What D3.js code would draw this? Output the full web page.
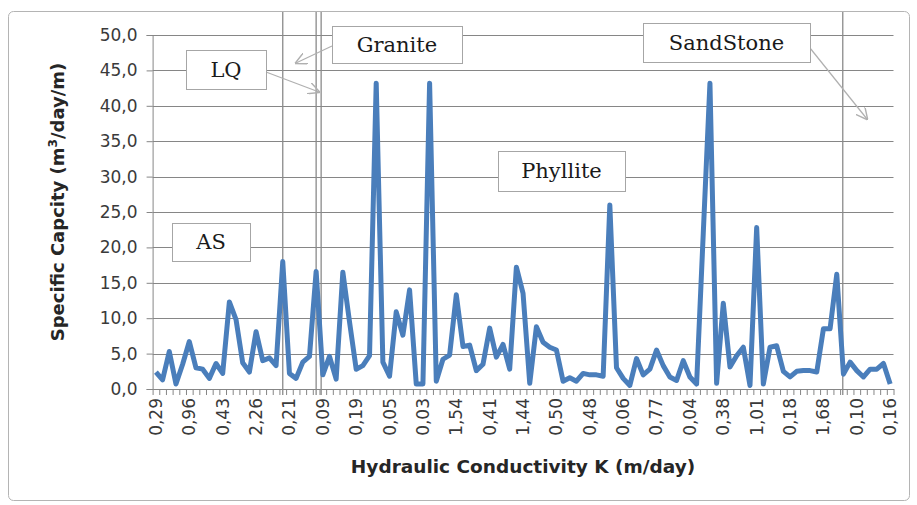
<!DOCTYPE html>
<html>
<head>
<meta charset="utf-8">
<script src="https://cdn.jsdelivr.net/npm/d3@7"></script>
<style>
  body { margin: 0; background: #fff; }
  svg { display: block; }
</style>
</head>
<body>
<svg id="chart" width="917" height="505"></svg>
<script>
// labels shown under every 5th category
const conductivityLabels = ['0,29', '0,96', '0,43', '2,26', '0,21', '0,09', '0,19', '0,05', '0,03', '1,54', '0,41', '1,44',
  '0,50', '0,48', '0,06', '0,77', '0,04', '0,38', '1,01', '0,18', '1,68', '0,10', '0,16'];
const labelEvery = 5;

// specific capacity per well (m3/day/m)
const specificCapacity = [
  2.4, 1.3, 5.3, 0.7, 3.5, 6.7, 3.0, 2.8, 1.5, 3.6,
  2.2, 12.3, 9.8, 3.7, 2.4, 8.1, 4.0, 4.4, 3.3, 18.0,
  2.2, 1.5, 3.8, 4.6, 16.6, 2.0, 4.6, 1.4, 16.5, 9.5,
  2.8, 3.3, 4.7, 43.2, 3.8, 1.8, 10.9, 7.6, 14.0, 0.7,
  0.7, 43.2, 1.1, 4.2, 4.8, 13.3, 6.0, 6.2, 2.6, 3.5,
  8.6, 4.5, 6.3, 2.8, 17.2, 13.5, 0.8, 8.8, 6.6, 5.9,
  5.5, 1.1, 1.6, 1.1, 2.2, 2.0, 2.0, 1.8, 26.0, 3.0,
  1.5, 0.5, 4.3, 2.0, 2.8, 5.5, 3.3, 1.7, 1.2, 4.0,
  1.7, 0.7, 22.0, 43.2, 0.8, 12.1, 3.1, 4.7, 5.9, 0.5,
  22.8, 0.7, 5.9, 6.1, 2.5, 1.7, 2.5, 2.6, 2.6, 2.4,
  8.5, 8.5, 16.2, 2.1, 3.8, 2.6, 1.7, 2.8, 2.8, 3.6,
  0.7
];

const capacityTicks = [0, 5, 10, 15, 20, 25, 30, 35, 40, 45, 50];

// rock type boundaries, in category units
const boundaryIndex = [19, 24, 24.75, 102.9];

const svg = d3.select('#chart');
const plot = { left: 152.6, right: 893.5, top: 35, bottom: 389 };

const x = d3.scaleLinear()
  .domain([-0.5, specificCapacity.length - 0.5])
  .range([plot.left, plot.right]);

const y = d3.scaleLinear()
  .domain([0, 50])
  .range([plot.bottom, plot.top]);

const fmt = d => d3.format('.1f')(d).replace('.', ',');

// chart frame
svg.append('rect')
  .attr('x', 8.5).attr('y', 11.5)
  .attr('width', 901).attr('height', 489)
  .attr('rx', 5)
  .attr('fill', '#fff')
  .attr('stroke', '#b4b4b4');

// gridlines
svg.append('g')
  .selectAll('line')
  .data(capacityTicks.filter(d => d > 0))
  .enter()
  .append('line')
  .attr('x1', plot.left).attr('x2', plot.right)
  .attr('y1', d => Math.round(y(d)) + 0.5).attr('y2', d => Math.round(y(d)) + 0.5)
  .attr('stroke', '#868686');

// y axis
const yAxis = svg.append('g')
  .attr('transform', 'translate(' + plot.left + ',0)')
  .call(d3.axisLeft(y).tickValues(capacityTicks).tickSize(6).tickPadding(9).tickFormat(fmt));
yAxis.select('.domain').attr('stroke', '#868686');
yAxis.selectAll('.tick line').attr('stroke', '#868686');
yAxis.selectAll('.tick text')
  .style('font-family', 'DejaVu Sans')
  .style('font-size', '17px')
  .attr('fill', '#3a3a3a');

// x axis, ticks between categories
const xAxis = svg.append('g')
  .attr('transform', 'translate(0,' + plot.bottom + ')')
  .call(d3.axisBottom(x)
    .tickValues(d3.range(specificCapacity.length + 1).map(k => k - 0.5))
    .tickSize(6)
    .tickSizeOuter(0)
    .tickFormat(''));
xAxis.select('.domain').attr('stroke', '#868686');
xAxis.selectAll('.tick line').attr('stroke', '#868686');

svg.append('g')
  .selectAll('text')
  .data(conductivityLabels)
  .enter()
  .append('text')
  .attr('transform', (d, i) => 'translate(' + x(i * labelEvery) + ',' + (plot.bottom + 9) + ') rotate(-90)')
  .attr('text-anchor', 'end')
  .attr('dy', '0.35em')
  .style('font-family', 'DejaVu Sans')
  .style('font-size', '17px')
  .attr('fill', '#3a3a3a')
  .text(d => d);

// rock type boundary lines
svg.append('g')
  .selectAll('line')
  .data(boundaryIndex)
  .enter()
  .append('line')
  .attr('x1', d => x(d)).attr('x2', d => x(d))
  .attr('y1', 12).attr('y2', plot.bottom + 6)
  .attr('stroke', '#8a8a8a')
  .attr('stroke-width', 1.3);

// data line
svg.append('path')
  .datum(specificCapacity)
  .attr('d', d3.line().x((d, i) => x(i)).y(d => y(d)))
  .attr('fill', 'none')
  .attr('stroke', '#4a7ebb')
  .attr('stroke-width', 5)
  .attr('stroke-linejoin', 'round');

// arrows from the labels
svg.append('defs').append('marker')
  .attr('id', 'arrow')
  .attr('viewBox', '0 0 10 10')
  .attr('refX', 9).attr('refY', 5)
  .attr('markerWidth', 12).attr('markerHeight', 12)
  .attr('markerUnits', 'userSpaceOnUse')
  .attr('orient', 'auto')
  .append('path')
  .attr('d', 'M0,0 L10,5 L0,10')
  .attr('fill', 'none')
  .attr('stroke', '#b0b0b0')
  .attr('stroke-width', 1.2);

const arrows = [
  [[332, 46], [296, 63]],
  [[266, 72], [319, 92]],
  [[810, 48], [867, 119]]
];
svg.append('g')
  .selectAll('line')
  .data(arrows)
  .enter()
  .append('line')
  .attr('x1', d => d[0][0]).attr('y1', d => d[0][1])
  .attr('x2', d => d[1][0]).attr('y2', d => d[1][1])
  .attr('stroke', '#b0b0b0')
  .attr('stroke-width', 1.2)
  .attr('marker-end', 'url(#arrow)');

// label boxes: name, x, y, w, h
const boxes = [
  ['AS', 172, 223, 78, 38],
  ['LQ', 186, 50, 80, 39],
  ['Granite', 332, 26, 130, 37],
  ['Phyllite', 498, 151, 127, 40],
  ['SandStone', 643, 23, 167, 39]
];
const box = svg.append('g')
  .selectAll('g')
  .data(boxes)
  .enter()
  .append('g');
box.append('rect')
  .attr('x', d => d[1] + 0.5).attr('y', d => d[2] + 0.5)
  .attr('width', d => d[3]).attr('height', d => d[4])
  .attr('fill', '#fff')
  .attr('stroke', '#a6a6a6');
box.append('text')
  .attr('x', d => d[1] + d[3] / 2)
  .attr('y', d => d[2] + d[4] / 2)
  .attr('dy', '0.35em')
  .attr('text-anchor', 'middle')
  .style('font-family', 'DejaVu Serif')
  .style('font-size', '21px')
  .attr('fill', '#1a1a1a')
  .text(d => d[0]);

// axis titles
const yTitle = svg.append('text')
  .attr('transform', 'translate(64,' + ((plot.top + plot.bottom) / 2 - 10) + ') rotate(-90)')
  .attr('text-anchor', 'middle')
  .style('font-family', 'DejaVu Sans')
  .style('font-size', '18px')
  .style('font-weight', 'bold')
  .attr('fill', '#262626');
yTitle.append('tspan').text('Specific Capcity (m');
yTitle.append('tspan').attr('baseline-shift', 'super').style('font-size', '12px').text('3');
yTitle.append('tspan').text('/day/m)');

svg.append('text')
  .attr('x', (plot.left + plot.right) / 2)
  .attr('y', 473)
  .attr('text-anchor', 'middle')
  .style('font-family', 'DejaVu Sans')
  .style('font-size', '18.5px')
  .style('font-weight', 'bold')
  .attr('fill', '#262626')
  .text('Hydraulic Conductivity K (m/day)');
</script>
</body>
</html>
